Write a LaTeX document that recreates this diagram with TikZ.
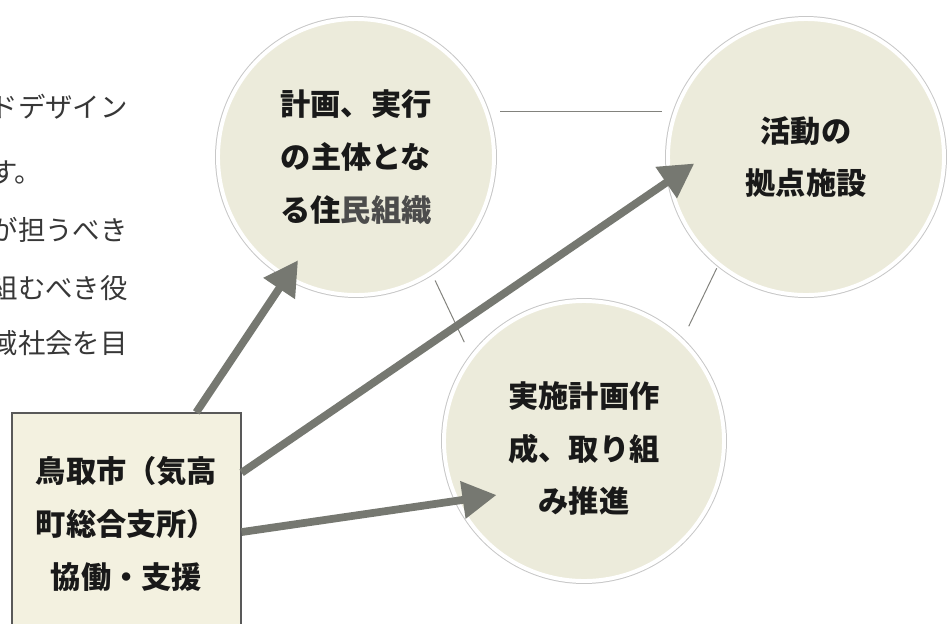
\documentclass[tikz,border=0pt]{standalone}
\usepackage{fontspec}
\usepackage{tikz}
\usetikzlibrary{arrows.meta}
\newfontfamily\jpfont{Noto Sans CJK JP}
\definecolor{fondocirc}{RGB}{236,235,219}
\definecolor{fondocaja}{RGB}{243,241,224}
\definecolor{grisflecha}{RGB}{118,120,113}
\definecolor{grislinea}{RGB}{130,130,125}
\definecolor{textocuerpo}{RGB}{55,55,55}

\begin{document}
\begin{tikzpicture}[scale=1,
		circulo/.style={circle, fill=fondocirc, draw=white, line width=2.8pt,
			preaction={draw=black!22, line width=4.2pt},
			inner sep=0pt, minimum size=6.9cm, align=center, text=black!90,
			font=\jpfont\bfseries\fontsize{21.5pt}{37.5pt}\selectfont},
		caja/.style={rectangle, fill=fondocaja, draw=black!65, line width=0.9pt,
			minimum width=5.725cm, minimum height=5.55cm, inner sep=0pt,
			align=center, text=black!90,
			font=\jpfont\bfseries\fontsize{21.5pt}{37.5pt}\selectfont},
		enlace/.style={draw=grislinea, line width=0.7pt},
		flecha/.style={draw=grisflecha, line width=5.5pt,
			-{Triangle[length=0.85cm,width=0.9cm]}},
		cuerpo/.style={inner sep=0pt, text=textocuerpo,
			font=\jpfont\fontsize{19.5pt}{19.5pt}\selectfont}]
				% Marco
				\clip (0,0) rectangle (23.8,-15.575);
				\fill[white] (0,0) rectangle (23.8,-15.575);

				% Texto cortado a la izquierda
				\node[cuerpo, anchor=east] (t1) at (3.2,-2.675) {ドデザイン};
				\node[cuerpo, anchor=west] (t2) at (-0.25,-4.3) {す。};
				\node[cuerpo, anchor=east] (t3) at (3.2,-5.75) {が担うべき};
				\node[cuerpo, anchor=east] (t4) at (3.2,-7.2) {組むべき役};
				\node[cuerpo, anchor=east] (t5) at (3.2,-8.575) {域社会を目};

				% Circulos
				\node[circulo] (A) at (8.9,-3.925) {計画、実行\\の主体とな\\る住{\color{black!70}民組織}};
				\node[circulo] (B) at (20.15,-3.925) {活動の\\拠点施設};
				\node[circulo, minimum size=7cm] (C) at (14.6,-11.025) {\rule{0pt}{1.03cm}実施計画作\\成、取り組\\み推進};

				% Lineas finas entre circulos
				\draw[enlace, shorten <=0.3cm, shorten >=0.3cm] (A.19) -- (B.161);
				\draw[enlace, shorten <=0.17cm, shorten >=0.37cm] (A.-57.6) -- (C.143);
				\draw[enlace, shorten <=0.07cm, shorten >=0.35cm] (B.231) -- (C.46);

				% Caja
				\node[caja] (city) at (3.1625,-13.1) {鳥取市（気高\\町総合支所）\\協働・支援};

				% Flechas
				\draw[flecha, shorten >=-0.54cm] (city.58) -- (A.240);
				\draw[flecha, shorten >=-0.79cm] (city.24) -- (B.190);
				\draw[flecha, shorten >=-1.04cm] (city.-4.5) -- (C.205);
			\end{tikzpicture}
\end{document}
